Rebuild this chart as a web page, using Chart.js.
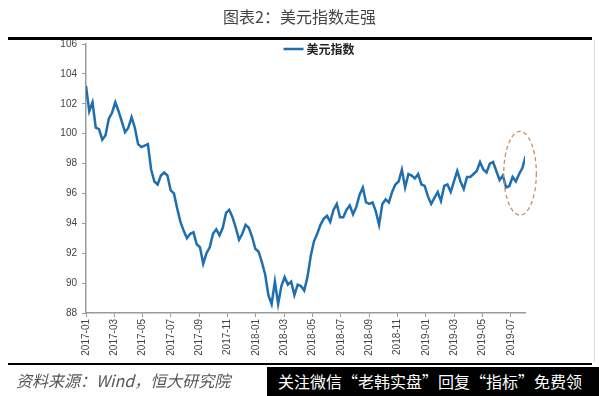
<!DOCTYPE html>
<html>
<head>
<meta charset="utf-8">
<script src="https://cdn.jsdelivr.net/npm/chart.js@4.4.0/dist/chart.umd.min.js"></script>
<style>
  body { margin: 0; width: 599px; height: 396px; background: #fff; position: relative; overflow: hidden;
         font-family: "Noto Sans CJK SC", sans-serif; }
  #chart { position: absolute; left: 0; top: 0; }
  #title { position: absolute; top: 4px; left: 0; width: 599px; text-align: center; font-size: 16px; color: #444; }
  .rule { position: absolute; left: 8px; width: 584px; background: #000; }
  #edge { position: absolute; left: 594px; top: 40px; width: 1px; height: 322px; background: #ddd; }
  #source { position: absolute; left: 16px; top: 368px; font-size: 16px; font-style: italic; color: #555; }
  #promo { position: absolute; left: 267px; top: 367px; width: 332px; height: 29px; background: #000;
           color: #fff; font-size: 16px; line-height: 29px; padding-left: 11px; box-sizing: border-box; white-space: nowrap; }
</style>
</head>
<body>
<canvas id="chart" width="599" height="396"></canvas>
<div id="title">图表2：美元指数走强</div>
<div class="rule" style="top:37px;height:3px"></div>
<div id="edge"></div>
<div class="rule" style="top:363px;height:2px"></div>
<div id="source">资料来源：Wind，恒大研究院</div>
<div id="promo">关注微信“老韩实盘”回复“指标”免费领</div>
<script>
// Weekly US dollar index, first week of Jan 2017 to early Aug 2019
const seriesName = '美元指数';
const dxy = [
    103.2, 101.5, 102.1, 100.4, 100.3, 99.6, 99.9, 101.0, 101.4, 102.1,
    101.5, 100.8, 100.1, 100.4, 101.1, 100.4, 99.3, 99.1, 99.2, 99.3,
    97.6, 96.8, 96.6, 97.2, 97.4, 97.2, 96.2, 96.0, 95.0, 94.1,
    93.5, 93.0, 93.3, 93.4, 92.6, 92.4, 91.3, 92.0, 92.4, 93.3,
    93.6, 93.2, 93.7, 94.7, 94.9, 94.4, 93.7, 92.9, 93.3, 93.9,
    93.7, 93.1, 92.3, 92.1, 91.4, 90.6, 89.2, 88.6, 90.1, 88.6,
    89.8, 90.4, 89.9, 90.1, 89.2, 89.9, 89.8, 89.5, 90.4, 91.8,
    92.8, 93.3, 93.9, 94.3, 94.5, 94.1, 94.9, 95.3, 94.4, 94.4,
    94.9, 95.2, 94.6, 95.1, 95.9, 96.4, 95.4, 95.3, 95.4, 94.8,
    93.9, 95.3, 95.6, 95.4, 96.1, 96.6, 96.8, 97.6, 96.4, 97.3,
    97.2, 97.0, 97.3, 96.6, 96.5, 95.8, 95.3, 95.7, 96.1, 95.5,
    96.5, 96.6, 96.1, 96.8, 97.5, 96.8, 96.3, 97.1, 97.1, 97.3,
    97.5, 98.1, 97.6, 97.4, 98.0, 98.1, 97.5, 96.9, 97.2, 96.4,
    96.5, 97.1, 96.8, 97.3, 97.7, 98.5
];

// x axis runs in months since 2017-01, one tick every two months
const xTickLabels = ['2017-01', '2017-03', '2017-05', '2017-07', '2017-09', '2017-11',
    '2018-01', '2018-03', '2018-05', '2018-07', '2018-09', '2018-11',
    '2019-01', '2019-03', '2019-05', '2019-07'];
const monthsShown = 31;
const yMin = 88, yMax = 106, yStep = 2;

// dashed ring around the latest rebound: centre (month, value), half sizes
const ringCenter = [30.65, 97.35];
const ringHalf = [1.15, 2.8];

const weeksPerMonth = 30.44 / 7;
const points = dxy.map((v, i) => ({ x: i / weeksPerMonth, y: v }));

const tickFont = { family: '"Liberation Sans", Arial, sans-serif', size: 10 };
const axisColor = '#9a9a9a';
const lineColor = '#1f6fb0';

// Draw the orange dashed ellipse
const ringPlugin = {
    id: 'ring',
    afterDatasetsDraw(chart) {
        const { ctx, scales: { x, y } } = chart;
        const cx = x.getPixelForValue(ringCenter[0]);
        const cy = y.getPixelForValue(ringCenter[1]);
        const rx = Math.abs(x.getPixelForValue(ringCenter[0] + ringHalf[0]) - cx);
        const ry = Math.abs(y.getPixelForValue(ringCenter[1] + ringHalf[1]) - cy);
        ctx.save();
        ctx.strokeStyle = '#c98f62';
        ctx.lineWidth = 1.3;
        ctx.setLineDash([4, 3]);
        ctx.beginPath();
        ctx.ellipse(cx, cy, rx, ry, 0, 0, Math.PI * 2);
        ctx.stroke();
        ctx.restore();
    }
};

// Small legend inside the top of the plot
const legendPlugin = {
    id: 'topLegend',
    afterDraw(chart) {
        const { ctx, chartArea } = chart;
        const ds = chart.data.datasets[0];
        const midX = (chartArea.left + chartArea.right) / 2;
        const yy = chartArea.top + 5;
        ctx.save();
        ctx.strokeStyle = ds.borderColor;
        ctx.lineWidth = 2.5;
        ctx.beginPath();
        ctx.moveTo(midX - 22, yy);
        ctx.lineTo(midX - 2, yy);
        ctx.stroke();
        ctx.fillStyle = '#222';
        ctx.font = 'bold 12px "Noto Sans CJK SC", sans-serif';
        ctx.textBaseline = 'middle';
        ctx.fillText(ds.label, midX + 1, yy);
        ctx.restore();
    }
};

new Chart(document.getElementById('chart').getContext('2d'), {
    type: 'line',
    data: {
        datasets: [{
            label: seriesName,
            data: points,
            borderColor: lineColor,
            borderWidth: 2.5,
            pointRadius: 0,
            fill: false,
            tension: 0
        }]
    },
    options: {
        responsive: false,
        animation: false,
        layout: { padding: { top: 44, right: 74, left: 0, bottom: 0 } },
        plugins: {
            legend: { display: false },
            tooltip: { enabled: false }
        },
        scales: {
            x: {
                type: 'linear',
                min: 0,
                max: monthsShown,
                afterFit: s => { s.height = 83; },
                afterBuildTicks: s => { s.ticks = s.ticks.filter(t => t.value % 2 === 0); },
                ticks: {
                    stepSize: 2,
                    autoSkip: false,
                    maxRotation: 90,
                    minRotation: 90,
                    padding: 2,
                    color: '#444',
                    font: tickFont,
                    callback: v => xTickLabels[v / 2]
                },
                grid: { drawOnChartArea: false, tickLength: 4, color: axisColor },
                border: { color: axisColor, width: 1.5 }
            },
            y: {
                min: yMin,
                max: yMax,
                afterFit: s => { s.width = 86; },
                ticks: { stepSize: yStep, padding: 5, color: '#444', font: tickFont },
                grid: { drawOnChartArea: false, tickLength: 4, color: axisColor },
                border: { color: axisColor, width: 1.5 }
            }
        }
    },
    plugins: [ringPlugin, legendPlugin]
});
</script>
</body>
</html>
